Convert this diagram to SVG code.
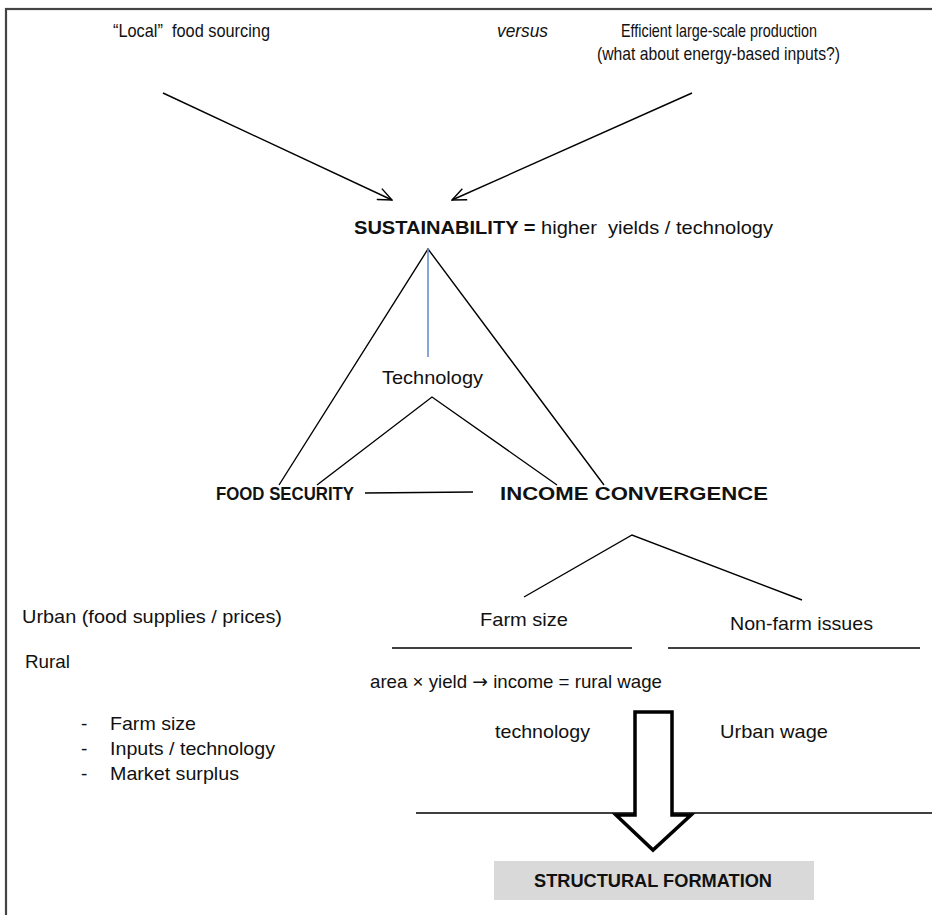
<svg xmlns="http://www.w3.org/2000/svg" width="932" height="915" viewBox="0 0 932 915">
<defs>
<marker id="open" markerWidth="16" markerHeight="14" refX="15" refY="7" orient="auto" markerUnits="userSpaceOnUse">
<path d="M1,1 L15,7 L1,13" fill="none" stroke="#000" stroke-width="1.4"/>
</marker>
<style>
text{font-family:"Liberation Sans",Arial,sans-serif;font-size:19px;fill:#111}
.b{font-weight:bold}
.c{font-size:19px}
.ln{stroke:#000;stroke-width:1.4;fill:none}
</style>
</defs>
<rect x="6" y="9" width="1000" height="1000" fill="none" stroke="#444" stroke-width="2.2"/>
<g id="local"><text x="113" y="37" class="c" xml:space="preserve" textLength="157" lengthAdjust="spacingAndGlyphs">“Local”  food sourcing</text></g>
<g id="versus"><text x="497" y="37" class="c" font-style="italic" textLength="51" lengthAdjust="spacingAndGlyphs">versus</text></g>
<g id="efficient"><text x="621" y="37" class="c" textLength="196" lengthAdjust="spacingAndGlyphs">Efficient large-scale production</text>
<text x="597" y="60" class="c" textLength="243" lengthAdjust="spacingAndGlyphs">(what about energy-based inputs?)</text></g>
<g id="sustainability"><text x="354" y="234" xml:space="preserve" textLength="419" lengthAdjust="spacingAndGlyphs"><tspan class="b">SUSTAINABILITY =</tspan> higher  yields / technology</text></g>
<g id="technology"><text x="382" y="384" textLength="101" lengthAdjust="spacingAndGlyphs">Technology</text></g>
<g id="food-security"><text x="216" y="500" class="b" textLength="138" lengthAdjust="spacingAndGlyphs">FOOD SECURITY</text></g>
<g id="income-convergence"><text x="500" y="500" class="b" textLength="268" lengthAdjust="spacingAndGlyphs">INCOME CONVERGENCE</text></g>
<g id="farm-size"><text x="480" y="626" textLength="88" lengthAdjust="spacingAndGlyphs">Farm size</text></g>
<g id="non-farm"><text x="730" y="630" textLength="143" lengthAdjust="spacingAndGlyphs">Non-farm issues</text></g>
<g id="urban"><text x="22" y="623" textLength="260" lengthAdjust="spacingAndGlyphs">Urban (food supplies / prices)</text></g>
<g id="rural"><text x="25" y="668" textLength="45" lengthAdjust="spacingAndGlyphs">Rural</text>
<text x="81" y="730">-</text><text x="110" y="730" textLength="86" lengthAdjust="spacingAndGlyphs">Farm size</text>
<text x="81" y="755">-</text><text x="110" y="755" textLength="165" lengthAdjust="spacingAndGlyphs">Inputs / technology</text>
<text x="81" y="780">-</text><text x="110" y="780" textLength="129" lengthAdjust="spacingAndGlyphs">Market surplus</text></g>
<g id="area"><text x="370" y="688" textLength="292" lengthAdjust="spacingAndGlyphs">area × yield <tspan font-family="'DejaVu Sans',sans-serif">→</tspan> income = rural wage</text></g>
<g id="tech-lower"><text x="495" y="738" textLength="95" lengthAdjust="spacingAndGlyphs">technology</text></g>
<g id="urban-wage"><text x="720" y="738" textLength="108" lengthAdjust="spacingAndGlyphs">Urban wage</text></g>
<g id="connectors">
<line class="ln" x1="163" y1="93" x2="392" y2="200" marker-end="url(#open)"/>
<line class="ln" x1="692" y1="93" x2="452" y2="200" marker-end="url(#open)"/>
<polyline class="ln" points="279,485 428,249 604,485"/>
<line x1="428" y1="249" x2="428" y2="357" stroke="#6a90cc" stroke-width="1.6"/>
<polyline class="ln" points="317,485 432,397 557,485"/>
<line class="ln" x1="365" y1="493" x2="473" y2="492"/>
<polyline class="ln" points="524,597 632,535 802,600"/>
<line class="ln" x1="392" y1="648" x2="632" y2="648"/>
<line class="ln" x1="668" y1="648" x2="920" y2="648"/>
<line class="ln" x1="416" y1="813" x2="932" y2="813"/>
<polygon points="635,712 672,712 672,815 691,815 653,850 616,815 635,815" fill="#fff" stroke="#000" stroke-width="3.5"/>
</g>
<g id="structural-formation"><rect x="494" y="861" width="320" height="39" fill="#d9d9d9"/>
<text x="534" y="887" class="b" textLength="238" lengthAdjust="spacingAndGlyphs">STRUCTURAL FORMATION</text></g>
</svg>
